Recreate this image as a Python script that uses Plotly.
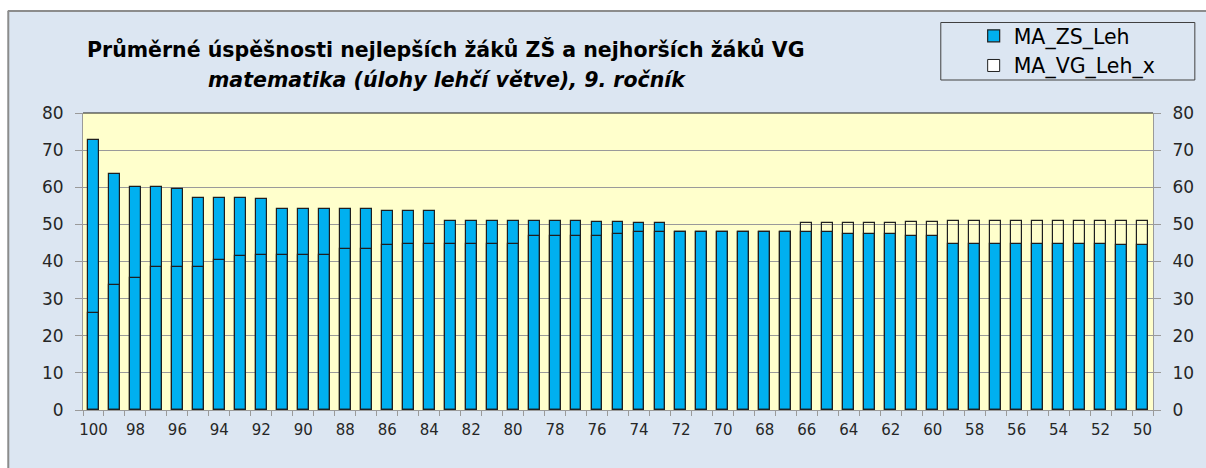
import plotly.graph_objects as go

# Body position categories (100 down to 50)
categories = [100, 99, 98, 97, 96, 95, 94, 93, 92, 91, 90, 89, 88, 87, 86, 85, 84,
              83, 82, 81, 80, 79, 78, 77, 76, 75, 74, 73, 72, 71, 70, 69, 68, 67,
              66, 65, 64, 63, 62, 61, 60, 59, 58, 57, 56, 55, 54, 53, 52, 51, 50]

ma_zs_leh = [72.7, 63.5, 60.2, 60.2, 59.6, 57.2, 57.2, 57.2, 56.9, 54.2, 54.2, 54.2,
             54.2, 54.2, 53.7, 53.7, 53.7, 51.0, 51.0, 51.0, 51.0, 51.0, 51.0, 51.0,
             50.6, 50.6, 50.4, 50.4, 47.9, 47.9, 47.9, 47.9, 47.9, 47.9, 47.9, 47.9,
             47.4, 47.4, 47.4, 46.8, 46.8, 44.7, 44.7, 44.7, 44.7, 44.7, 44.7, 44.7,
             44.7, 44.4, 44.4]

ma_vg_leh_x = [26.0, 33.8, 35.5, 38.5, 38.5, 38.5, 40.3, 41.5, 41.8, 41.8, 41.8, 41.8,
               43.5, 43.5, 44.4, 44.7, 44.7, 44.7, 44.7, 44.7, 44.7, 46.8, 46.8, 46.8,
               46.8, 47.4, 47.9, 47.9, 47.9, 47.9, 47.9, 47.9, 47.9, 47.9, 50.4, 50.4,
               50.4, 50.4, 50.4, 50.6, 50.6, 51.0, 51.0, 51.0, 51.0, 51.0, 51.0, 51.0,
               51.0, 51.0, 51.0]

x_ticks = [100, 98, 96, 94, 92, 90, 88, 86, 84, 82, 80, 78, 76, 74, 72, 70, 68, 66,
           64, 62, 60, 58, 56, 54, 52, 50]
y_ticks = [0, 10, 20, 30, 40, 50, 60, 70, 80]

title_line1 = "Průměrné úspěšnosti nejlepších žáků ZŠ a nejhorších žáků VG"
title_line2 = "matematika (úlohy lehčí větve), 9. ročník"

FONT = "DejaVu Sans"
BLUE = "#00B0F0"
EDGE = "#1f1f1f"
PAPER = "#DCE6F2"
PLOTBG = "#FFFFCC"
GRID = "#9a9a9a"

W, H = 1206, 468
L, R, T, B = 83, 49, 113, 58
PW, PH = W - L - R, H - T - B


def px_x(px):
    return (px - L) / PW


def px_y(py):
    return (H - B - py) / PH


fig = go.Figure()

fig.add_trace(go.Bar(
    x=categories, y=ma_zs_leh, name="MA_ZS_Leh", width=0.52,
    marker=dict(color=BLUE, line=dict(color=EDGE, width=1.2)),
    xaxis="x", yaxis="y",
))
# Outline-only bars drawn over the blue ones
fig.add_trace(go.Bar(
    x=categories, y=ma_vg_leh_x, name="MA_VG_Leh_x", width=0.52, showlegend=False,
    marker=dict(color="rgba(255,255,255,0)", line=dict(color=EDGE, width=1.2)),
    xaxis="x", yaxis="y2",
))
# Legend key for the outlined series
fig.add_trace(go.Bar(
    x=[None], y=[None], name="MA_VG_Leh_x",
    marker=dict(color="white", line=dict(color=EDGE, width=1)),
    xaxis="x", yaxis="y2",
))

shapes = [
    # white strip above and left of the chart frame
    dict(type="rect", xref="paper", yref="paper", x0=px_x(-5), x1=px_x(W + 5),
         y0=px_y(10.5), y1=px_y(-5), fillcolor="white", line=dict(width=0), layer="below"),
    dict(type="rect", xref="paper", yref="paper", x0=px_x(-5), x1=px_x(7.5),
         y0=px_y(H + 5), y1=px_y(-5), fillcolor="white", line=dict(width=0), layer="below"),
    # frame lines
    dict(type="line", xref="paper", yref="paper", x0=px_x(7.5), x1=px_x(W + 5),
         y0=px_y(11), y1=px_y(11), line=dict(color="#8c8c8c", width=2), layer="below"),
    dict(type="line", xref="paper", yref="paper", x0=px_x(8), x1=px_x(8),
         y0=px_y(11), y1=px_y(H + 5), line=dict(color="#8c8c8c", width=2), layer="below"),
    # plot area top edge
    dict(type="line", xref="paper", yref="paper", x0=0, x1=1, y0=1, y1=1,
         line=dict(color="#1a1a1a", width=1.2)),
    # legend box
    dict(type="rect", xref="paper", yref="paper", x0=px_x(944), x1=px_x(1199),
         y0=px_y(80), y1=px_y(22.5), line=dict(color="#404040", width=1),
         fillcolor="rgba(0,0,0,0)", layer="below"),
]

annotations = [
    dict(text=f"<b>{title_line1}</b>", xref="paper", yref="paper",
         x=px_x(447), y=px_y(50), xanchor="center", yanchor="middle", showarrow=False,
         font=dict(family=FONT, size=20.5, color="black")),
    dict(text=f"<b><i>{title_line2}</i></b>", xref="paper", yref="paper",
         x=px_x(448), y=px_y(80), xanchor="center", yanchor="middle", showarrow=False,
         font=dict(family=FONT, size=20.5, color="black")),
]

yaxis_common = dict(
    range=[0, 80], tickvals=y_ticks, ticks="outside", ticklen=7, tickcolor=GRID,
    showline=True, linecolor=GRID, linewidth=1, zeroline=False,
    tickfont=dict(family=FONT, size=17, color="#262626"), ticklabelstandoff=8,
)

fig.update_layout(
    width=W, height=H,
    margin=dict(l=L, r=R, t=T, b=B, pad=0),
    paper_bgcolor=PAPER, plot_bgcolor=PLOTBG,
    barmode="overlay", bargap=0,
    showlegend=True,
    legend=dict(
        x=px_x(977), y=px_y(16), xanchor="left", yanchor="top",
        bgcolor="rgba(0,0,0,0)", borderwidth=0,
        font=dict(family=FONT, size=20.5, color="black"),
        traceorder="normal",
    ),
    xaxis=dict(
        range=[100.5, 49.5], tickvals=x_ticks, ticks="", showgrid=False,
        showline=True, linecolor=GRID, linewidth=1, zeroline=False,
        tickfont=dict(family=FONT, size=15, color="#262626"), ticklabelstandoff=6,
        minor=dict(tick0=0.5, dtick=1, ticks="outside", ticklen=5, tickcolor=GRID,
                   showgrid=False),
    ),
    yaxis=dict(**yaxis_common, side="left", showgrid=True, gridcolor=GRID, gridwidth=1),
    yaxis2=dict(**yaxis_common, side="right", overlaying="y", showgrid=False),
    shapes=shapes,
    annotations=annotations,
)

fig.write_html("out.html")
